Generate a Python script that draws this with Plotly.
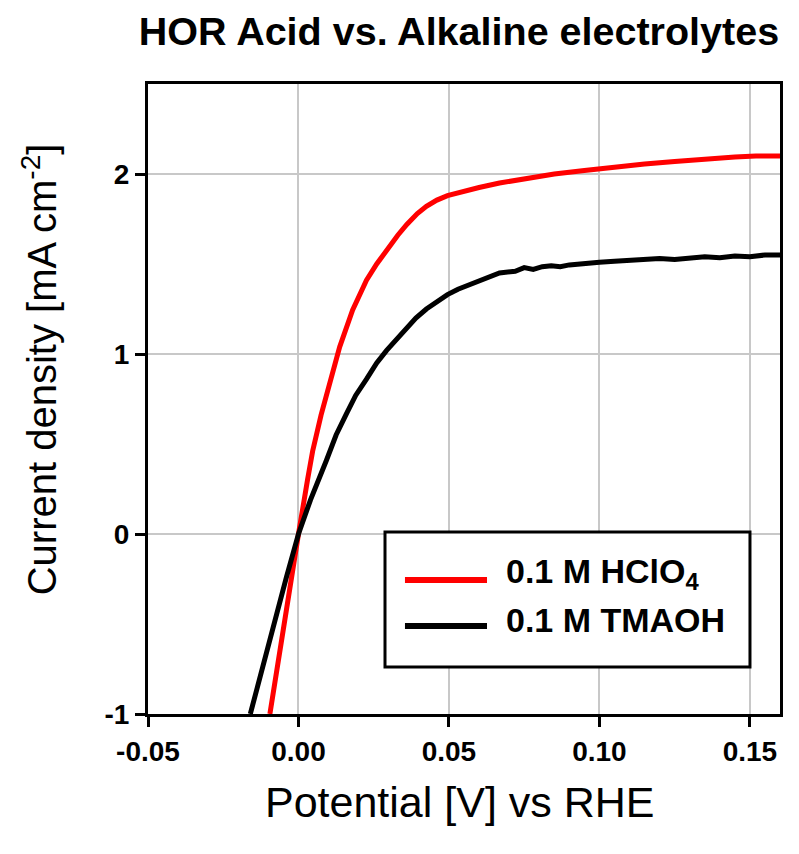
import plotly.graph_objects as go

# ---- data ----
acid_name = "0.1 M HClO<sub>4</sub>"
acid_x = [-0.0095, -0.006, -0.003, 0.0, 0.003, 0.0047, 0.0075, 0.0104, 0.0137, 0.018,
          0.0226, 0.026, 0.0293, 0.033, 0.036, 0.0395, 0.0425, 0.046, 0.0495, 0.055,
          0.06, 0.0668, 0.075, 0.085, 0.095, 0.105, 0.115, 0.125, 0.135, 0.145, 0.152, 0.16]
acid_y = [-1.0, -0.62, -0.3, 0.0, 0.3, 0.46, 0.66, 0.85, 1.04, 1.245,
          1.41, 1.5, 1.58, 1.66, 1.72, 1.78, 1.82, 1.855, 1.88, 1.905,
          1.925, 1.95, 1.975, 2.0, 2.02, 2.04, 2.055, 2.07, 2.085, 2.095, 2.10, 2.10]

alk_name = "0.1 M TMAOH"
alk_x = [-0.0160, -0.012, -0.008, -0.004, 0.0, 0.004, 0.0093, 0.0125, 0.016, 0.019,
         0.0226, 0.026, 0.0293, 0.033, 0.036, 0.039, 0.0425, 0.046, 0.0495, 0.053,
         0.0578, 0.062, 0.0668, 0.072, 0.075, 0.078, 0.081, 0.084, 0.087, 0.09,
         0.096, 0.1, 0.105, 0.11, 0.115, 0.12, 0.125, 0.13, 0.135, 0.14,
         0.145, 0.15, 0.155, 0.16]
alk_y = [-1.0, -0.74, -0.49, -0.24, 0.0, 0.19, 0.41, 0.55, 0.67, 0.77,
         0.86, 0.95, 1.02, 1.09, 1.15, 1.2, 1.25, 1.29, 1.33, 1.36,
         1.39, 1.42, 1.45, 1.46, 1.48, 1.47, 1.485, 1.49, 1.485, 1.495,
         1.50, 1.51, 1.515, 1.52, 1.52, 1.53, 1.525, 1.535, 1.54, 1.535,
         1.545, 1.54, 1.55, 1.55]

x_ticks = [-0.05, 0.0, 0.05, 0.10, 0.15]
y_ticks = [-1, 0, 1, 2]

title_text = "HOR Acid vs. Alkaline electrolytes"
x_title = "Potential [V] vs RHE"
y_title = "Current density [mA cm<sup>-2</sup>]"

FONT = "Liberation Sans, Arial, sans-serif"
RED = "#ff0000"
BLACK = "#000000"

fig = go.Figure()
fig.add_trace(go.Scatter(x=acid_x, y=acid_y, mode="lines", name=acid_name,
                         line=dict(color=RED, width=5), showlegend=False))
fig.add_trace(go.Scatter(x=alk_x, y=alk_y, mode="lines", name=alk_name,
                         line=dict(color=BLACK, width=5), showlegend=False))

axis_common = dict(
    showline=True, linecolor="black", linewidth=3, mirror=True,
    ticks="outside", ticklen=10, tickwidth=3, tickcolor="black",
    showgrid=True, gridcolor="#c8c8c8", gridwidth=2, zeroline=False,
    tickfont=dict(family=FONT, size=28, color="black", weight="bold"),
)

fig.update_xaxes(range=[-0.05, 0.16], tickvals=x_ticks,
                 ticktext=[f"{v:.2f}" for v in x_ticks], **axis_common)
fig.update_yaxes(range=[-1, 2.5], tickvals=y_ticks,
                 ticktext=[str(v) for v in y_ticks], **axis_common)

# legend box drawn in paper coordinates (position/size only, no data)
lg_x0, lg_x1, lg_y0, lg_y1 = 0.375, 0.9525, 0.0746, 0.289
ln_x0, ln_x1 = 0.4066, 0.5364
txt_x = 0.5635
rows_y = [0.2127, 0.1397]
entries = [(acid_name, RED), (alk_name, BLACK)]

shapes = [dict(type="rect", xref="paper", yref="paper", x0=lg_x0, x1=lg_x1,
               y0=lg_y0, y1=lg_y1, line=dict(color="black", width=3),
               fillcolor="white", layer="above")]
annotations = []
for (name, color), ry in zip(entries, rows_y):
    shapes.append(dict(type="line", xref="paper", yref="paper", x0=ln_x0, x1=ln_x1,
                       y0=ry, y1=ry, line=dict(color=color, width=6), layer="above"))
    annotations.append(dict(text=name, xref="paper", yref="paper", x=txt_x, y=ry + 0.01,
                            xanchor="left", yanchor="middle", showarrow=False,
                            font=dict(family=FONT, size=34, color="black", weight="bold")))

annotations += [
    dict(text=x_title, xref="paper", yref="paper", x=0.494, y=-0.14,
         xanchor="center", yanchor="middle", showarrow=False,
         font=dict(family=FONT, size=43, color="black")),
    dict(text=y_title, xref="paper", yref="paper", x=-0.171, y=0.547,
         xanchor="center", yanchor="middle", textangle=-90, showarrow=False,
         font=dict(family=FONT, size=40, color="black")),
]

fig.update_layout(
    width=799, height=854,
    margin=dict(l=140, r=27, t=76, b=148, autoexpand=False),
    paper_bgcolor="white", plot_bgcolor="white",
    showlegend=False,
    title=dict(text=title_text, x=451 / 799, xanchor="center", xref="container",
               y=1 - 23 / 854, yanchor="middle", yref="container",
               font=dict(family=FONT, size=39.5, color="black", weight="bold")),
    shapes=shapes,
    annotations=annotations,
)

fig.write_html("out.html")
